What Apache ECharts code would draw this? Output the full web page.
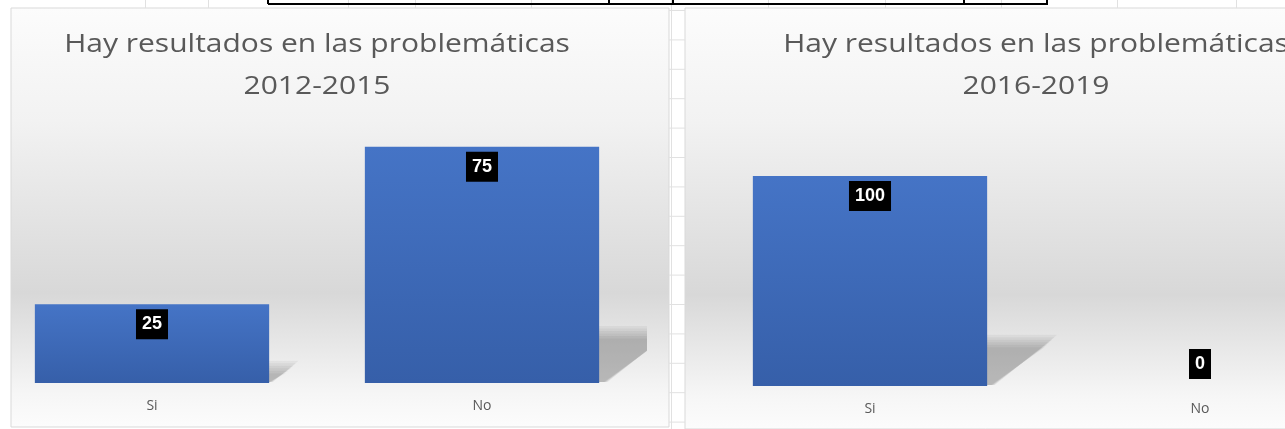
<!DOCTYPE html>
<html>
<head>
<meta charset="utf-8">
<script src="https://cdn.jsdelivr.net/npm/echarts@6/dist/echarts.min.js"></script>
<style>
    html, body { margin: 0; padding: 0; background: #fff; }
    #chart { width: 1285px; height: 429px; }
</style>
</head>
<body>
<div id="chart"></div>
<script>
    var categorias = ['Si', 'No'];
    var valores2012 = [25, 75];
    var valores2016 = [100, 0];
    var titulo = 'Hay resultados en las problemáticas';
    var periodos = ['2012-2015', '2016-2019'];
    var maximos = [80, 120];

    var myChart = echarts.init(document.getElementById('chart'));

    var fuente = '"Open Sans", "Liberation Sans", sans-serif';

    // fondo con brillo tipo Excel
    function fondoPanel() {
        return {
            type: 'linear', x: 0, y: 0, x2: 0, y2: 1,
            colorStops: [
                {offset: 0, color: '#fcfcfc'},
                {offset: 0.27, color: '#f2f2f2'},
                {offset: 0.68, color: '#d8d8d8'},
                {offset: 0.92, color: '#f6f6f6'},
                {offset: 1, color: '#fcfcfc'}
            ]
        };
    }

    function colorBarra() {
        return {
            type: 'linear', x: 0, y: 0, x2: 0, y2: 1,
            colorStops: [{offset: 0, color: '#4574c6'}, {offset: 1, color: '#365fa9'}]
        };
    }

    function datosBarra(vals) {
        return vals.map(function (v) {
            return v === 0 ? {value: v, label: {position: 'top', distance: 7}} : v;
        });
    }

    // sombra en perspectiva detrás de cada barra (capas para difuminar)
    function sombra(params, api) {
        var v = api.value(1);
        var base = api.coord([api.value(0), 0]);
        var top = api.coord([api.value(0), v]);
        var h = base[1] - top[1];
        if (h <= 0) return null;
        var x1 = base[0] + api.size([1, 0])[0] * 0.71 / 2;
        var y0 = base[1];
        var capas = [];
        for (var c = 0; c < 6; c++) {
            var d = (c - 2) * 2.5;
            capas.push({
                type: 'polygon',
                shape: {points: [
                    [x1 - 4, y0 - 1],
                    [x1 - 4, y0 - 0.22 * h + d],
                    [x1 + 0.31 * h - d, y0 - 0.22 * h + d],
                    [x1 + 0.03 * h - d * 0.3, y0 - 1]
                ]},
                style: {fill: 'rgba(0,0,0,0.045)'}
            });
        }
        return {type: 'group', children: capas};
    }

    // rejilla de la hoja de cálculo
    var lineasHoja = [];
    for (var k = 0; k < 15; k++) {
        var yy = 10.5 + 29.4 * k;
        lineasHoja.push({type: 'line', z: 0, shape: {x1: 669, y1: yy, x2: 685, y2: yy}, style: {stroke: '#e1e1e1', lineWidth: 1}});
    }
    lineasHoja.push({type: 'line', z: 0, shape: {x1: 671.5, y1: 0, x2: 671.5, y2: 429}, style: {stroke: '#e1e1e1', lineWidth: 1}});
    [145, 208, 348, 415, 531, 768, 885, 1001, 1117, 1236].forEach(function (x) {
        lineasHoja.push({type: 'line', z: 0, shape: {x1: x + 0.5, y1: 0, x2: x + 0.5, y2: 8}, style: {stroke: '#e1e1e1', lineWidth: 1}});
    });
    // borde de tabla superior
    lineasHoja.push({type: 'line', z: 1, shape: {x1: 268, y1: 4, x2: 1048, y2: 4}, style: {stroke: '#000', lineWidth: 2}});
    [268, 609, 673, 964, 1047].forEach(function (x) {
        lineasHoja.push({type: 'line', z: 1, shape: {x1: x, y1: 0, x2: x, y2: 4}, style: {stroke: '#000', lineWidth: 2}});
    });

    var graficos = [
        {type: 'rect', z: 0, shape: {x: 11, y: 8, width: 658, height: 419}, style: {fill: fondoPanel(), stroke: '#d9d9d9', lineWidth: 1}},
        {type: 'rect', z: 0, shape: {x: 685, y: 8, width: 620, height: 421}, style: {fill: fondoPanel(), stroke: '#d9d9d9', lineWidth: 1}},
        {
            type: 'text', z: 10, x: 317, y: 24, scaleX: 1.2,
            style: {text: titulo + '\n' + periodos[0], fontSize: 25, fontFamily: fuente, fill: '#595959', align: 'center', verticalAlign: 'top', lineHeight: 42}
        },
        {
            type: 'text', z: 10, x: 1036, y: 24, scaleX: 1.2,
            style: {text: titulo + '\n' + periodos[1], fontSize: 25, fontFamily: fuente, fill: '#595959', align: 'center', verticalAlign: 'top', lineHeight: 42}
        }
    ].concat(lineasHoja);

    function ejeX(i) {
        return {
            type: 'category', gridIndex: i, data: categorias,
            axisLine: {show: false}, axisTick: {show: false},
            axisLabel: {color: '#595959', fontSize: 14, margin: 16, fontFamily: fuente}
        };
    }

    function ejeY(i) {
        return {type: 'value', gridIndex: i, min: 0, max: maximos[i], show: false, splitLine: {show: false}};
    }

    function serieBarra(i, vals) {
        return {
            type: 'bar', xAxisIndex: i, yAxisIndex: i, z: 3,
            barWidth: '71%',
            data: datosBarra(vals),
            itemStyle: {color: colorBarra()},
            label: {
                show: true, position: 'insideTop', distance: 5,
                color: '#fff', backgroundColor: '#000',
                padding: [6, 6], fontSize: 18, lineHeight: 18, fontWeight: 'bold',
                fontFamily: '"Liberation Sans", sans-serif'
            },
            animation: false
        };
    }

    function serieSombra(i, vals) {
        return {
            type: 'custom', xAxisIndex: i, yAxisIndex: i, z: 2, clip: true,
            encode: {x: 0, y: 1},
            data: vals.map(function (v, j) { return [j, v]; }),
            renderItem: sombra,
            silent: true,
            animation: false
        };
    }

    var option = {
        backgroundColor: '#fff',
        animation: false,
        graphic: graficos,
        grid: [
            {left: -13, top: 131, width: 660, height: 252, outerBoundsMode: 'none'},
            {left: 705, top: 134, width: 660, height: 252, outerBoundsMode: 'none'}
        ],
        xAxis: [ejeX(0), ejeX(1)],
        yAxis: [ejeY(0), ejeY(1)],
        series: [
            serieSombra(0, valores2012),
            serieBarra(0, valores2012),
            serieSombra(1, valores2016),
            serieBarra(1, valores2016)
        ]
    };
    myChart.setOption(option);
</script>
</body>
</html>
